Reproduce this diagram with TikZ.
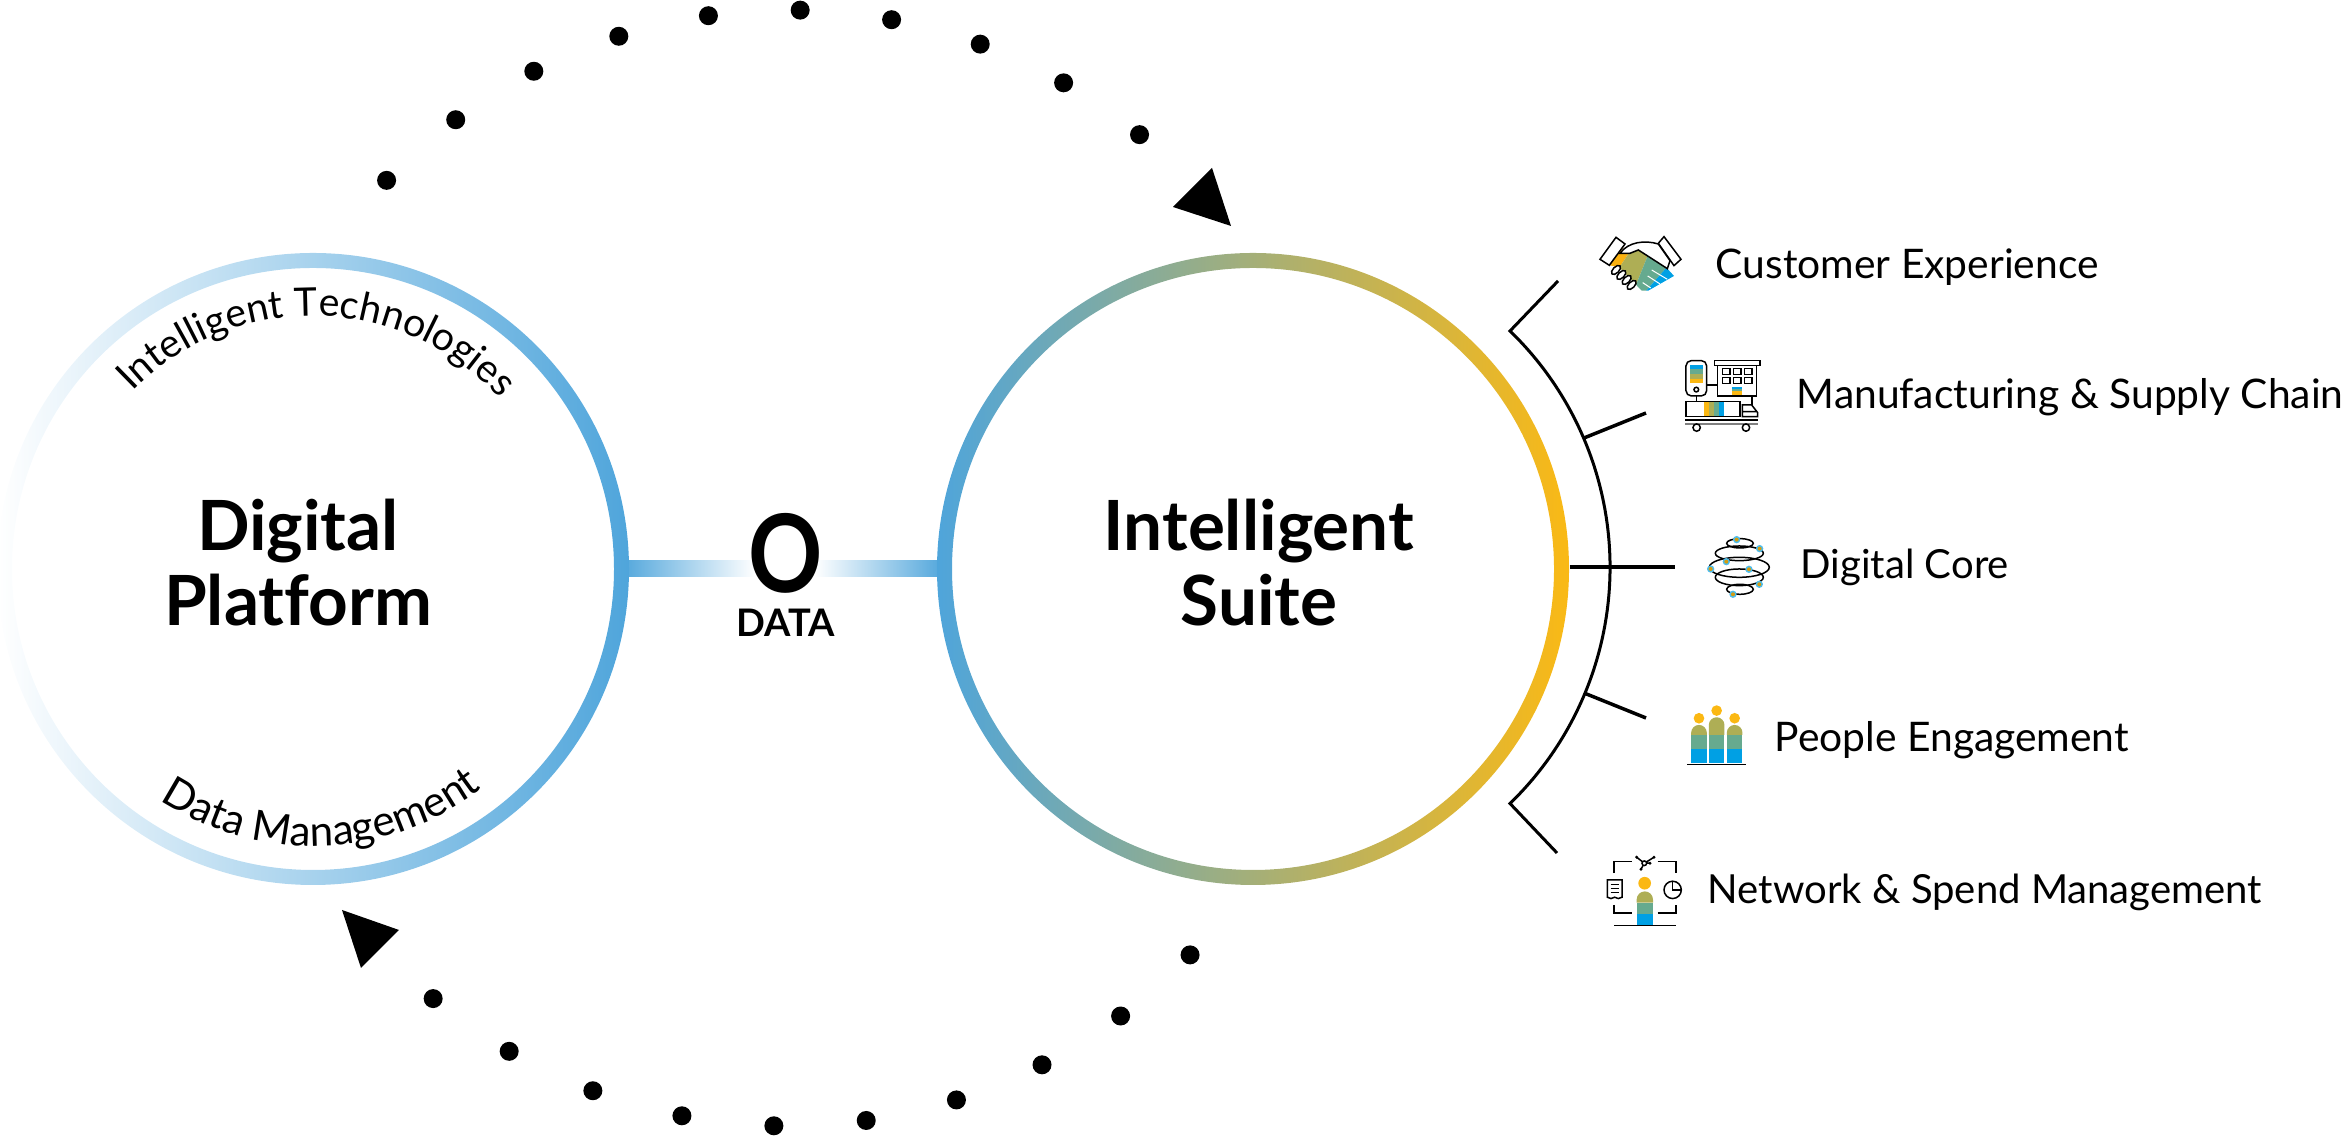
\documentclass[tikz,border=0pt]{standalone}
\usepackage{fontspec}
\setmainfont{Lato}[Ligatures=NoCommon]
\usetikzlibrary{decorations.text}
\definecolor{ringblue}{HTML}{4FA5DB}
\definecolor{ringmid}{HTML}{8FAB84}
\definecolor{ringgold}{HTML}{FAB915}
\definecolor{icblue}{HTML}{00A0E4}
\definecolor{icteal}{HTML}{66AA8F}
\definecolor{icolive}{HTML}{AEAE55}
\definecolor{icgold}{HTML}{FBB813}
\tikzset{
  itemlabel/.style={anchor=base west,inner sep=0pt,font=\fontsize{11.6}{13}\selectfont},
  titlelabel/.style={anchor=base,inner sep=0pt,font=\fontsize{19.7}{22}\selectfont\bfseries},
  bracket/.style={line width=0.3mm},
  tick/.style={line width=0.35mm},
  dotmark/.style={fill=black},
  iconzoom/.style={x=0.03333mm,y=-0.03333mm,line width=0.15mm},
}
\begin{document}
\begin{tikzpicture}[x=0.1mm,y=0.1mm]
  \useasboundingbox (0,0) rectangle (2345,1140);
  \coordinate (DP) at (313,571);
  \coordinate (IS) at (1253,571);
  \coordinate (R) at (788,572);
  \coordinate (B) at (1280,572);

  % data bars
  \shade[left color=ringblue,right color=white] (620,563) rectangle (755,579);
  \shade[left color=white,right color=ringblue] (815,563) rectangle (945,579);

  % rings
  \path[even odd rule,left color=white,right color=ringblue] (DP) circle (316) (DP) circle (301);
  \path[even odd rule,left color=ringblue,middle color=ringmid,right color=ringgold] (IS) circle (316) (IS) circle (301);

  \node[titlelabel] (dig) at (298,589) {Digital};
  \node[titlelabel] (plat) at (298,514) {Platform};
  \node[titlelabel] (intel) at (1259,589) {Intelligent};
  \node[titlelabel] (suite) at (1259,514) {Suite};
  \node[anchor=base,inner sep=0pt,font=\fontsize{30.8}{32}\selectfont\bfseries,xscale=0.85] (zero) at (786,547) {O};
  \node[anchor=base,inner sep=0pt,font=\fontsize{10.8}{13}\selectfont\bfseries] (data) at (786,503) {DATA};

  \path[decorate,decoration={text along path,text align=center,
    text={|\fontsize{11.2}{13}\selectfont|Intelligent Technologies}}] (DP) ++(149:253) arc (149:29:253);
  \path[decorate,decoration={text along path,text align=center,
    text={|\fontsize{12}{14}\selectfont|Data Management}}] (DP) ++(222:277) arc (222:322:277);

  % orbit
  \foreach \a in {0,...,9} {
    \fill[dotmark] (R) ++(136-9.45*\a:558) circle (9.5);
    \fill[dotmark] (R) ++(-43.9-9.51*\a:558) circle (9.5);
  }
  \fill[dotmark] (1173,933) -- (1212,972) -- (1231,914) -- cycle;
  \fill[dotmark] (342,230) -- (399,210) -- (361,172) -- cycle;

  % bracket
  \coordinate (T0) at (1558,859);
  \coordinate (T1) at (1510,809);
  \coordinate (T2) at (1557,287);
  \draw[bracket] (T0) -- (T1) arc (45.9:-45.9:329) -- (T2);
  \coordinate (A0) at (1584,702);
  \coordinate (A1) at (1646,727);
  \coordinate (C0) at (1570,573);
  \coordinate (C1) at (1675,573);
  \coordinate (E0) at (1584,447);
  \coordinate (E1) at (1646,422);
  \draw[tick] (A0) -- (A1);
  \draw[tick] (C0) -- (C1);
  \draw[tick] (E0) -- (E1);

  \node[itemlabel] (cust) at (1715,861) {Customer Experience};
  \node[itemlabel] (manu) at (1796,731) {Manufacturing \& Supply Chain};
  \node[itemlabel,font=\fontsize{11.4}{13}\selectfont] (core) at (1800,561) {Digital Core};
  \node[itemlabel] (peop) at (1774,388) {People Engagement};
  \node[itemlabel,font=\fontsize{11.4}{13}\selectfont] (netw) at (1707,236) {Network \& Spend Management};

  % handshake
  \begin{scope}[shift={(1580,920)},iconzoom]
    \begin{scope}
      \clip (135,72) -- (88,136) -- (118,142) -- (185,212) -- (205,212) -- (282,168) -- (262,146) -- (175,90) -- (150,100) -- (120,100) -- cycle;
      \fill[icgold!90!orange] (80,60) -- (173,60) -- (113,150) -- (80,150) -- cycle;
      \fill[icolive] (173,60) -- (222,60) -- (158,220) -- (113,220) -- (113,150) -- cycle;
      \fill[icteal] (222,60) -- (297,100) -- (190,222) -- (158,220) -- cycle;
      \fill[icblue] (297,100) -- (300,222) -- (190,222) -- cycle;
    \end{scope}
    \draw[white,line width=0.1mm] (215,150) -- (262,178) (203,168) -- (240,192) (188,188) -- (212,204);
    \draw[fill=white] (60,118) -- (108,52) -- (135,72) -- (88,136) -- cycle;
    \draw[fill=white] (235,70) -- (252,50) -- (303,118) -- (282,137) -- cycle;
    \draw[fill=white] (120,100) .. controls (145,65) and (195,60) .. (235,72) -- (270,122) -- (262,146) -- (175,90) -- (150,100) -- cycle;
    \foreach \fx/\fy in {108/150,124/165,140/180,155/195} {
      \draw[fill=white,rotate around={45:(\fx,\fy)}] (\fx,\fy) ellipse (17 and 9);
    }
  \end{scope}

  % factory and truck
  \begin{scope}[shift={(1580,920)},iconzoom]
    \draw[rounded corners=1.5] (318,422) rectangle (380,528);
    \fill[icblue] (331,434) rectangle (368,448);
    \fill[icteal] (331,448) rectangle (368,462);
    \fill[icolive] (331,462) rectangle (368,476);
    \fill[icgold] (331,476) rectangle (368,490);
    \draw (349,509) circle (7);
    \draw (403,421) rectangle (540,436);
    \draw (413,436) rectangle (530,528);
    \foreach \wx in {427,460,493} \foreach \wy in {445,473} {
      \draw (\wx,\wy) rectangle ++(23,18);
    }
    \fill[icblue] (457,500) rectangle (485,507);
    \fill[icteal] (457,507) rectangle (485,514);
    \fill[icgold] (457,514) rectangle (485,526);
    \draw (380,495) -- (413,495) (349,528) -- (349,545) (516,528) -- (516,555);
    \draw (318,545) rectangle (480,590);
    \fill[icgold] (373,547) rectangle (388,588);
    \fill[icolive] (388,547) rectangle (402,588);
    \fill[icteal] (402,547) rectangle (417,588);
    \fill[icblue] (417,547) rectangle (431,588);
    \draw (487,590) -- (487,555) -- (515,555) -- (533,578) -- (533,590) -- cycle (490,575) -- (530,575);
    \draw (316,600) -- (533,600);
    \draw[gray] (316,612) -- (533,612);
    \draw[fill=white] (350,623) circle (11);
    \draw[fill=white] (498,623) circle (11);
  \end{scope}

  % core
  \begin{scope}[shift={(1580,620)},iconzoom]
    \draw (480,70) ellipse (40 and 14);
    \draw (478,100) ellipse (72 and 22);
    \draw (478,142) ellipse (90 and 30);
    \draw (478,172) ellipse (72 and 25);
    \draw (480,208) ellipse (40 and 15);
    \foreach \nx/\ny in {470/59,539/86,439/125,392/147,507/148,538/193,459/223} {
      \fill[icblue!70!white] (\nx,\ny) circle (11);
      \fill[icgold!85!black] (\nx,\ny) circle (6);
    }
  \end{scope}

  % people
  \begin{scope}[shift={(1580,620)},iconzoom]
    \foreach \px/\pt in {357/615,410/592,464/615} {
      \fill[icgold] (\px,\pt-20) circle (16);
      \fill[icolive] (\px-23.5,645) -- (\px-23.5,\pt+23.5) arc (180:360:23.5) -- (\px+23.5,645) -- cycle;
      \fill[icteal] (\px-23.5,645) rectangle (\px+23.5,687);
      \fill[icblue] (\px-23.5,687) rectangle (\px+23.5,730);
    }
    \draw (322,733) -- (498,733);
  \end{scope}

  % network
  \begin{scope}[shift={(1580,620)},iconzoom]
    \draw (102,1060) -- (102,1025) -- (155,1025) (233,1025) -- (288,1025) -- (288,1060);
    \draw (102,1155) -- (102,1180) -- (155,1180) (233,1180) -- (288,1180) -- (288,1155);
    \fill[icgold] (194,1090) circle (19);
    \fill[icolive] (170,1148) -- (170,1139) arc (180:360:24.5) -- (219,1148) -- cycle;
    \fill[icteal] (170,1148) rectangle (219,1182);
    \fill[icblue] (170,1182) rectangle (219,1215);
    \draw (102,1217) -- (288,1217);
    \draw (82,1080) -- (126,1080) -- (126,1132) -- (115,1136) -- (104,1132) -- (93,1136) -- (82,1132) -- cycle;
    \draw (92,1094) -- (116,1094) (92,1106) -- (116,1106) (92,1118) -- (116,1118);
    \draw (278,1110) circle (26);
    \draw (278,1084) -- (278,1110) -- (304,1110);
    \draw (170,1012) -- (193,1030) -- (222,1012) (193,1030) -- (183,1048) (193,1030) -- (210,1030);
    \foreach \mx/\my in {170/1012,222/1012,183/1048,210/1030} {
      \fill (\mx,\my) circle (5);
    }
    \draw[fill=white] (193,1030) circle (7);
  \end{scope}
\end{tikzpicture}
\end{document}
